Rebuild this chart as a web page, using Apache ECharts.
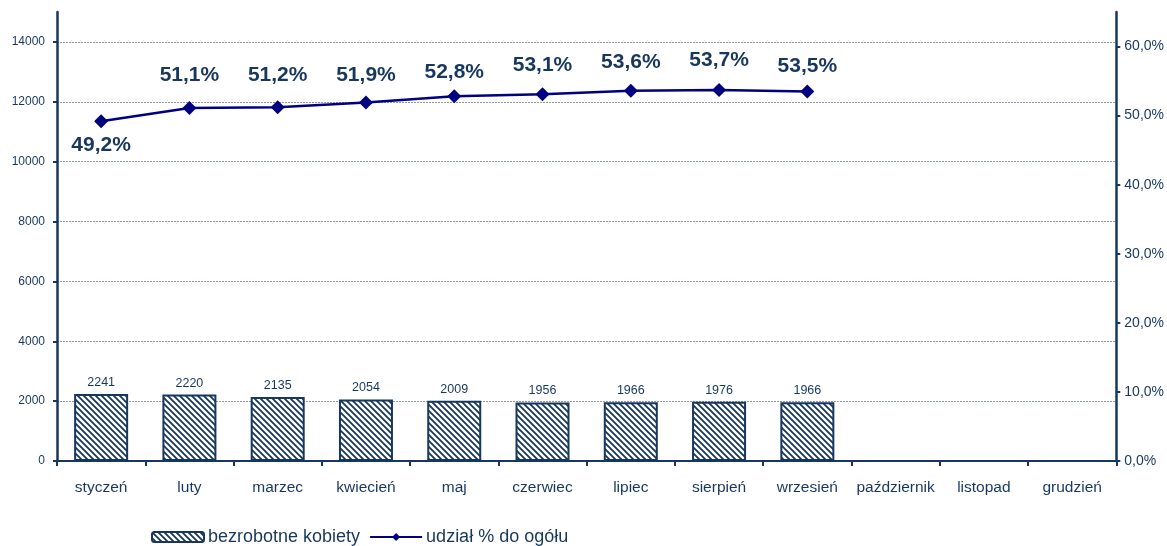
<!DOCTYPE html>
<html>
<head>
<meta charset="utf-8">
<script src="https://cdn.jsdelivr.net/npm/echarts@6/dist/echarts.min.js"></script>
<style>
  html, body { margin: 0; padding: 0; background: #fff; }
  #chart { width: 1167px; height: 546px; }
</style>
</head>
<body>
<div id="chart"></div>
<script>
const months = ['styczeń', 'luty', 'marzec', 'kwiecień', 'maj', 'czerwiec', 'lipiec', 'sierpień', 'wrzesień', 'październik', 'listopad', 'grudzień']
const womenUnemployed = [2241, 2220, 2135, 2054, 2009, 1956, 1966, 1976, 1966, null, null, null]
const shareOfTotal = [49.2, 51.1, 51.2, 51.9, 52.8, 53.1, 53.6, 53.7, 53.5, null, null, null]

const navy = '#17375e'
const lineColor = '#000080'

// gap between each line point and its label (first one sits below)
const labelGap = [7, 15, 15, 10, 7, 11, 11, 12, 8]

// hatch pattern for the bars
const makeHatch = () => {
  const c = document.createElement('canvas')
  c.width = 6
  c.height = 6
  const ctx = c.getContext('2d')
  ctx.fillStyle = '#fff'
  ctx.fillRect(0, 0, 6, 6)
  ctx.strokeStyle = navy
  ctx.lineWidth = 1.8
  ctx.beginPath()
  ctx.moveTo(-1, -1); ctx.lineTo(7, 7)
  ctx.moveTo(-4, 2); ctx.lineTo(4, 10)
  ctx.moveTo(2, -4); ctx.lineTo(10, 4)
  ctx.stroke()
  return c
}
const hatch = makeHatch()

const pct = v => v.toFixed(1).replace('.', ',') + '%'

const chart = echarts.init(document.getElementById('chart'))

const option = {
  animation: false,
  textStyle: { fontFamily: 'Liberation Sans, Arial, sans-serif' },
  grid: { left: 57, right: 50, top: 12, bottom: 85 },
  legend: {
    left: 146,
    top: 523,
    itemWidth: 52,
    itemHeight: 10,
    itemGap: 9,
    textStyle: { fontSize: 18, color: navy, padding: [0, 0, 0, -1] },
    data: ['bezrobotne kobiety', 'udział % do ogółu']
  },
  xAxis: {
    type: 'category',
    data: months,
    axisLine: { lineStyle: { color: navy, width: 2 } },
    axisTick: { show: true, interval: 0, length: 5, lineStyle: { color: navy, width: 2 } },
    axisLabel: { color: navy, fontSize: 15.5, margin: 19, interval: 0 }
  },
  yAxis: [
    {
      type: 'value',
      min: 0,
      max: 15000,
      interval: 2000,
      axisLine: { show: true, lineStyle: { color: navy, width: 2.5 } },
      axisTick: { show: true, length: 4, lineStyle: { color: navy, width: 2 } },
      axisLabel: {
        color: navy,
        fontSize: 12,
        margin: 12,
        showMaxLabel: false,
        formatter: v => (v > 14000 ? '' : String(v))
      },
      splitLine: {
        show: true,
        showMinLine: false,
        showMaxLine: false,
        lineStyle: { color: '#8e98a8', width: 1, type: [2, 1] }
      }
    },
    {
      type: 'value',
      min: 0,
      max: 65,
      interval: 10,
      position: 'right',
      axisLine: { show: true, lineStyle: { color: navy, width: 2.5 } },
      axisTick: { show: true, length: 4, lineStyle: { color: navy, width: 2 } },
      axisLabel: {
        color: navy,
        fontSize: 14,
        margin: 8,
        showMaxLabel: false,
        formatter: v => (v > 60 ? '' : pct(v))
      },
      splitLine: { show: false }
    }
  ],
  series: [
    {
      name: 'bezrobotne kobiety',
      type: 'bar',
      data: womenUnemployed,
      barWidth: 54,
      itemStyle: {
        color: { image: hatch, repeat: 'repeat' },
        borderColor: navy,
        borderWidth: 2
      },
      label: {
        show: true,
        position: 'top',
        distance: 5,
        color: navy,
        fontSize: 12.5
      }
    },
    {
      name: 'udział % do ogółu',
      type: 'line',
      yAxisIndex: 1,
      data: shareOfTotal.map((v, i) => ({
        value: v,
        label: {
          position: i === 0 ? 'bottom' : 'top',
          distance: labelGap[i] == null ? 15 : labelGap[i]
        }
      })),
      symbol: 'diamond',
      symbolSize: 14,
      lineStyle: { color: lineColor, width: 2.5 },
      itemStyle: { color: lineColor },
      label: {
        show: true,
        position: 'top',
        distance: 15,
        color: navy,
        fontSize: 21,
        fontWeight: 'bold',
        formatter: p => (p.value == null ? '' : pct(p.value))
      }
    }
  ]
}

chart.setOption(option)
window.addEventListener('resize', () => chart.resize())
</script>
</body>
</html>
